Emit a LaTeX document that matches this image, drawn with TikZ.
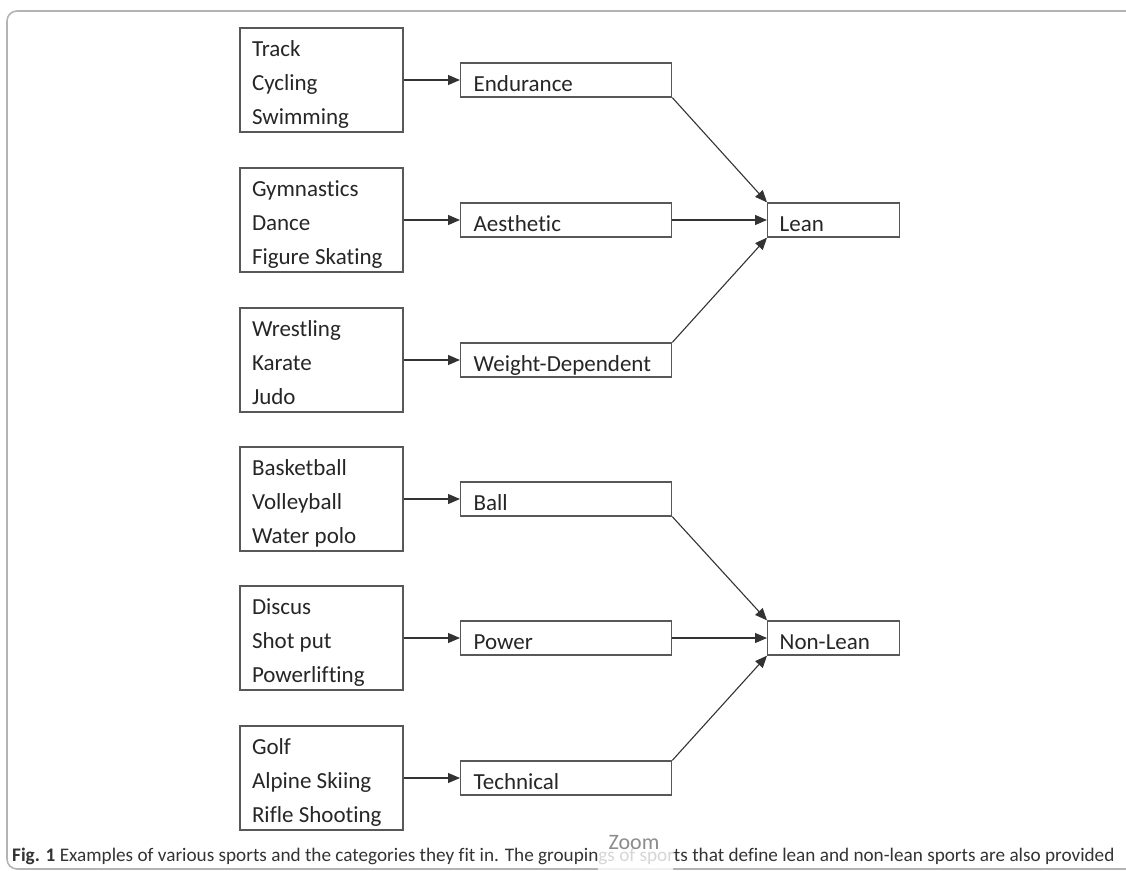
\documentclass[tikz,border=0pt]{standalone}
\usepackage{fontspec}
\setmainfont{Carlito}[Ligatures=NoCommon]
\usetikzlibrary{arrows.meta}
\definecolor{boxline}{HTML}{585858}
\definecolor{frameline}{HTML}{B4B4B4}
\definecolor{captext}{HTML}{333333}
\tikzset{sportbox/.style={draw=boxline, line width=1.3pt,
         minimum height=104pt, inner xsep=12pt, inner ysep=0pt,
         text width=139pt, align=left, text=black!85,
         font=\fontsize{23}{34}\selectfont,
         execute at begin node={\spaceskip=0.23em\relax\rule{0pt}{26pt}},
         execute at end node={\rule[-5pt]{0pt}{5pt}}},
         groupbox/.style={draw=boxline, line width=1.3pt, anchor=west,
         minimum height=34pt, inner xsep=13pt, inner ysep=0pt,
         text width=#1, align=left, text height=22pt, text depth=0pt,
         text=black!85, font=\fontsize{23}{28}\selectfont,
         execute at begin node={\spaceskip=0.23em\relax}},
         groupbox/.default={185pt},
         arr/.style={draw=black!80, line width=1.1pt,
         -{Triangle[length=12pt,width=10pt]}}}

\begin{document}
\begin{tikzpicture}[x=1pt,y=-1pt]
\useasboundingbox (0,0) rectangle (1126,870);
\clip (0,0) rectangle (1126,870);
\draw[frameline, line width=1.6pt, rounded corners=10pt] (7,11) rectangle (1160,869);

\node[sportbox] (trk) at (321.5,80) {Track\\Cycling\\Swimming};
\node[sportbox] (gym) at (321.5,220) {Gymnastics\\Dance\\Figure Skating};
\node[sportbox] (wre) at (321.5,360) {Wrestling\\Karate\\Judo};
\node[sportbox] (bas) at (321.5,499) {Basketball\\Volleyball\\Water polo};
\node[sportbox] (dis) at (321.5,638) {Discus\\Shot put\\Powerlifting};
\node[sportbox] (gol) at (321.5,778) {Golf\\Alpine Skiing\\Rifle Shooting};

\node[groupbox] (endur) at (460,80) {Endurance};
\node[groupbox] (aesth) at (460,220) {Aesthetic};
\node[groupbox] (weight) at (460,360) {Weight-Dependent};
\node[groupbox] (ball) at (460,499) {Ball};
\node[groupbox] (power) at (460,638) {Power};
\node[groupbox] (techn) at (460,778) {Technical};

\node[groupbox=108pt, inner xsep=12pt] (lean) at (767,220) {Lean};
\node[groupbox=108pt, inner xsep=12pt] (nonlean) at (767,638) {Non-Lean};

\draw[arr] (trk.east) -- (endur.west);
\draw[arr] (gym.east) -- (aesth.west);
\draw[arr] (wre.east) -- (weight.west);
\draw[arr] (bas.east) -- (ball.west);
\draw[arr] (dis.east) -- (power.west);
\draw[arr] (gol.east) -- (techn.west);

\draw[arr] (endur.south east) -- (lean.north west);
\draw[arr] (aesth.east) -- (lean.west);
\draw[arr] (weight.north east) -- (lean.south west);
\draw[arr] (ball.south east) -- (nonlean.north west);
\draw[arr] (power.east) -- (nonlean.west);
\draw[arr] (techn.north east) -- (nonlean.south west);

\node[anchor=base west, inner sep=0pt, text=captext,
      font=\fontsize{19.2}{22}\selectfont] (caption) at (12,861)
  {\textbf{Fig. 1} Examples of various sports and the categories they fit in. The groupings of sports that define lean and non-lean sports are also provided};

%\draw (635,845) node {Zoom};
\fill[white, opacity=0.8, rounded corners=3pt] (598,815) rectangle (673,880);
\node[text=black!45, font=\fontsize{22}{24}\selectfont, inner sep=0pt] (zoom) at (634,843) {Zoom};
\end{tikzpicture}
\end{document}
